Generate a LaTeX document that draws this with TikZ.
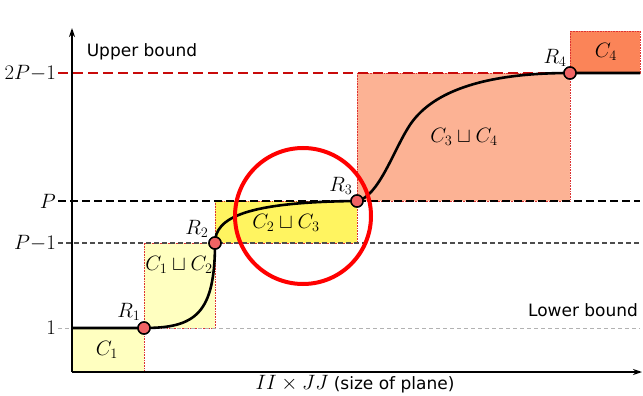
\documentclass[tikz,border=0pt]{standalone}
\usepackage{fontspec}
\setsansfont{DejaVu Sans}
\usetikzlibrary{arrows.meta}
\definecolor{lyel}{RGB}{255,255,192}
\definecolor{myel}{RGB}{255,244,96}
\definecolor{salm}{RGB}{252,178,148}
\definecolor{oran}{RGB}{251,132,88}
\definecolor{bord}{RGB}{220,50,50}
\definecolor{ptfill}{RGB}{240,100,100}
\definecolor{dred}{RGB}{200,10,10}
\begin{document}
\begin{tikzpicture}[x=1pt,y=-1pt,
  box/.style={draw=bord,densely dotted,line width=0.6pt},
  pt/.style={circle,draw=black,fill=ptfill,line width=1.4pt,inner sep=0pt,minimum size=12pt},
  mlab/.style={font=\fontsize{20.74}{24}\selectfont},
  slab/.style={font=\sffamily\fontsize{17}{20}\selectfont},
  axis/.style={line width=1.3pt,-{Stealth[length=9pt,width=6pt]}}]
\useasboundingbox (0,0) rectangle (643,396);
% boxes
\fill[lyel] (72,328) rectangle (144,372);
\draw[box] (144,328) -- (144,372);
\fill[lyel] (144,243) rectangle (215,328);
\draw[box] (144,328) rectangle (215,243);
\fill[myel] (215,201) rectangle (357,243);
\draw[box] (215,201) rectangle (357,243);
\fill[salm] (357,73) rectangle (570,201);
\draw[box] (357,73) rectangle (570,201);
\fill[oran] (570,31) rectangle (640,73);
\draw[box] (570,31) rectangle (640,73);
% coordinates
\coordinate (o) at (72,372);
\coordinate (ytop) at (72,28);
\coordinate (xend) at (642,372);
\coordinate (s1) at (58,328); \coordinate (e1) at (640,328);
\coordinate (s2) at (58,243); \coordinate (e2) at (640,243);
\coordinate (s3) at (58,201); \coordinate (e3) at (640,201);
\coordinate (s4) at (58,73);  \coordinate (e4) at (570,73);
\coordinate (c0) at (72,328); \coordinate (cend) at (640,73);
% level lines
\draw[gray!60,line width=0.9pt,dash pattern=on 4pt off 3pt] (s1) -- (e1);
\draw[black!70,line width=1.1pt,dash pattern=on 5pt off 3pt] (s2) -- (e2);
\draw[black,line width=1.8pt,dash pattern=on 8pt off 4pt] (s3) -- (e3);
\draw[dred,line width=2.4pt,dash pattern=on 10pt off 5pt] (s4) -- (e4);
% axes
\draw[axis] (o) -- (ytop);
\draw[axis] (o) -- (xend);
% points
\node[pt] (R1) at (144,328) {};
\node[pt] (R2) at (215,243) {};
\node[pt] (R3) at (357,201) {};
\node[pt] (R4) at (570,73) {};
% curve
\draw[line width=2.6pt] (c0) -- (R1.center)
  .. controls (195,328) and (215,314) .. (R2.center)
  .. controls (215,218) and (245,202) .. (R3.center)
  .. controls (378,197) and (393,152) .. (408,128)
  .. controls (426,98) and (470,73) .. (R4.center) -- (cend);
% redraw points on top
\node[pt] at (R1) {};
\node[pt] at (R2) {};
\node[pt] at (R3) {};
\node[pt] at (R4) {};
% big circle
\node[draw=red,line width=4pt,circle,minimum size=136pt,inner sep=0pt] (focus) at (303,216) {};
% labels
\node[mlab] (lR1) at (129,312) {$R_1$};
\node[mlab] (lR2) at (197,229) {$R_2$};
\node[mlab] (lR3) at (341,186) {$R_3$};
\node[mlab] (lR4) at (555,58) {$R_4$};
\node[mlab] (lC1) at (107,350) {$C_1$};
\node[mlab] (lC12) at (179,265) {$C_1\sqcup C_2$};
\node[mlab] (lC23) at (286,223) {$C_2\sqcup C_3$};
\node[mlab] (lC34) at (464,137) {$C_3\sqcup C_4$};
\node[mlab] (lC4) at (606,52) {$C_4$};
\node[mlab,anchor=east,inner sep=0pt] (t4) at (56,73) {$2P{-}1$};
\node[mlab,anchor=east,inner sep=0pt] (t3) at (56,201) {$P$};
\node[mlab,anchor=east,inner sep=0pt] (t2) at (56,243) {$P{-}1$};
\node[mlab,anchor=east,inner sep=0pt] (t1) at (56,328) {$1$};
\node[slab] (ub) at (142,52) {Upper bound};
\node[slab] (lb) at (583,310) {Lower bound};
\node[slab] (xl) at (355,384) {{\fontsize{20.74}{24}\selectfont$II\times JJ$} (size of plane)};
\end{tikzpicture}
\end{document}
